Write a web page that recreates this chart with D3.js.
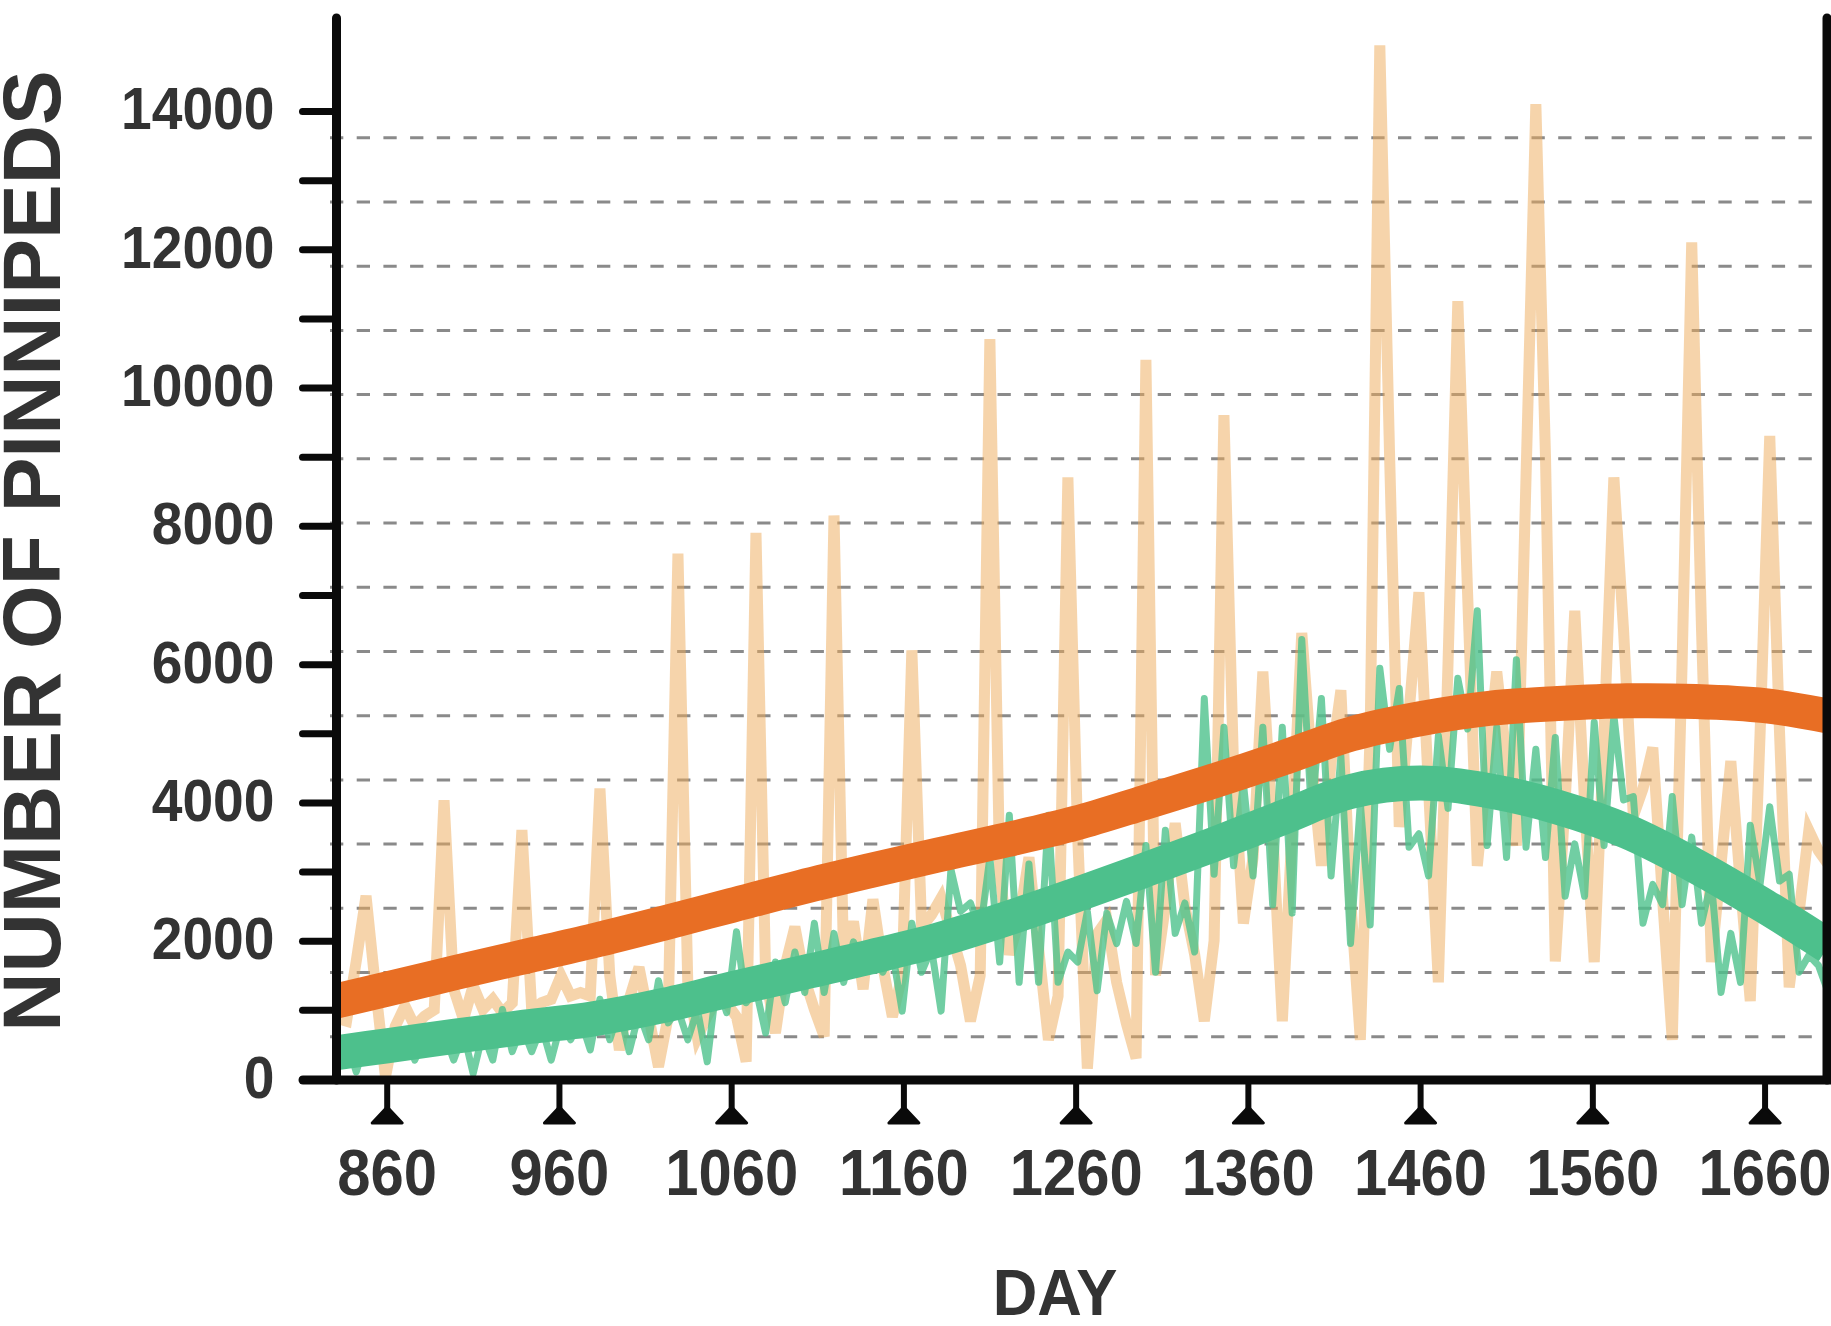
<!DOCTYPE html>
<meta charset="utf-8">

<!-- Load d3.js -->
<script src="https://d3js.org/d3.v7.min.js"></script>

<style>
  body { margin: 0; background: #fff; }
  text { font-family: "Liberation Sans", Arial, sans-serif; font-weight: bold; fill: #333; }
</style>

<!-- Create a div where the graph will take place -->
<div id="my_dataviz"></div>
<script>

// ---- data ----
// sampling days of the two raw series
var days = [
  831.0, 836.7, 842.3, 848.0, 853.6, 859.3, 865.0, 870.6, 876.3, 881.9,
  887.6, 893.3, 898.9, 904.6, 910.2, 915.9, 921.6, 927.2, 932.9, 938.5,
  944.2, 949.9, 955.5, 961.2, 966.8, 972.5, 978.2, 983.8, 989.5, 995.1,
  1000.8, 1006.5, 1012.1, 1017.8, 1023.4, 1029.1, 1034.8, 1040.4, 1046.1, 1051.7,
  1057.4, 1063.1, 1068.7, 1074.4, 1080.0, 1085.7, 1091.4, 1097.0, 1102.7, 1108.3,
  1114.0, 1119.7, 1125.3, 1131.0, 1136.6, 1142.3, 1148.0, 1153.6, 1159.3, 1164.9,
  1170.6, 1176.3, 1181.9, 1187.6, 1193.2, 1198.9, 1204.6, 1210.2, 1215.9, 1221.5,
  1227.2, 1232.9, 1238.5, 1244.2, 1249.8, 1255.5, 1261.2, 1266.8, 1272.5, 1278.1,
  1283.8, 1289.5, 1295.1, 1300.8, 1306.4, 1312.1, 1317.8, 1323.4, 1329.1, 1334.7,
  1340.4, 1346.1, 1351.7, 1357.4, 1363.0, 1368.7, 1374.4, 1380.0, 1385.7, 1391.3,
  1397.0, 1402.7, 1408.3, 1414.0, 1419.6, 1425.3, 1431.0, 1436.6, 1442.3, 1447.9,
  1453.6, 1459.3, 1464.9, 1470.6, 1476.2, 1481.9, 1487.6, 1493.2, 1498.9, 1504.5,
  1510.2, 1515.9, 1521.5, 1527.2, 1532.8, 1538.5, 1544.2, 1549.8, 1555.5, 1561.1,
  1566.8, 1572.5, 1578.1, 1583.8, 1589.4, 1595.1, 1600.8, 1606.4, 1612.1, 1617.7,
  1623.4, 1629.1, 1634.7, 1640.4, 1646.0, 1651.7, 1657.4, 1663.0, 1668.7, 1674.3,
  1680.0, 1685.7, 1691.3, 1697.0
];

// light orange raw counts
var rawOrange = [
  880, 836, 1700, 2650, 1300, 30, 762, 1055, 762, 909,
  1000, 4030, 1300, 860, 1349, 1006, 1153, 958, 1100, 3600,
  1000, 1104, 1153, 1495, 1202, 1251, 1200, 4200, 1500, 420,
  1153, 1617, 909, 176, 900, 7600, 1400, 600, 909, 1153,
  1100, 900, 250, 7900, 1500, 665, 1642, 2200, 1446, 1006,
  616, 8150, 1700, 2277, 1300, 2600, 1642, 900, 1500, 6200,
  2200, 2375, 2619, 2130, 1642, 836, 1500, 10700, 3000, 1800,
  2300, 3205, 1886, 567, 1200, 8700, 3500, 150, 2100, 2300,
  1400, 800, 300, 10400, 1500, 2500, 3700, 2500, 1800, 836,
  2000, 9600, 4500, 2250, 3200, 5893, 3596, 836, 3596, 6450,
  4574, 3083, 4574, 5624, 2619, 567, 5000, 14950, 9000, 3645,
  5300, 7041, 4200, 1398, 6000, 11250, 7000, 3083, 4500, 5893,
  4600, 3376, 8700, 14100, 9000, 1700, 4000, 6772, 4000, 1691,
  5000, 8700, 6500, 3800, 4200, 4793, 2600, 567, 6000, 12100,
  6500, 1691, 3100, 4598, 2800, 1129, 5000, 9300, 5000, 1325,
  2400, 3596, 3300, 3100
];

// light green raw counts
var rawGreen = [
  372, 567, 103, 567, 323, 567, 372, 713, 274, 567,
  469, 665, 274, 665, 78, 665, 274, 1006, 396, 762,
  396, 762, 274, 811, 567, 860, 420, 1153, 567, 1006,
  396, 958, 567, 1422, 811, 1006, 567, 1006, 249, 1397,
  958, 2130, 1104, 1300, 665, 1691, 1104, 1837, 1251, 2253,
  1251, 2106, 1398, 1984, 1642, 1886, 1544, 1837, 982, 2253,
  1544, 1886, 982, 3034, 2424, 2546, 2130, 3205, 1691, 3816,
  1398, 3108, 1398, 3816, 1398, 1837, 1691, 2424, 1275, 2399,
  1959, 2570, 1959, 3376, 1544, 3596, 2106, 2546, 1837, 5502,
  2961, 5086, 3083, 4280, 2937, 5086, 2521, 5086, 2399, 6357,
  3792, 5502, 2937, 4671, 1959, 3987, 2228, 5942, 4769, 5648,
  3352, 3547, 2937, 4964, 3914, 5795, 5062, 6772, 3376, 5086,
  3205, 6064, 3352, 4769, 3205, 4940, 2643, 3401, 2643, 5160,
  3376, 5257, 4036, 4085, 2253, 2814, 2521, 4085, 2521, 3498,
  2253, 2863, 1251, 2106, 1398, 3670, 2814, 3938, 2863, 2961,
  1544, 1788, 1642, 1251
];

// smoothed trends
var trendDays   = [831, 860, 900, 940, 980, 1020, 1060, 1100, 1140, 1180, 1220, 1260,
                   1300, 1340, 1380, 1420, 1460, 1500, 1540, 1580, 1620, 1660, 1697];
var trendOrange = [1130, 1300, 1540, 1770, 2000, 2250, 2510, 2770, 3010, 3240, 3460, 3700,
                   4000, 4310, 4640, 4990, 5210, 5360, 5430, 5470, 5460, 5400, 5250];
var trendGreen  = [380, 480, 620, 750, 870, 1060, 1300, 1530, 1760, 2010, 2320, 2660,
                   3020, 3390, 3780, 4160, 4280, 4170, 3930, 3580, 3080, 2500, 1920];

var xTicks = [860, 960, 1060, 1160, 1260, 1360, 1460, 1560, 1660];
var yTicks = [0, 1000, 2000, 3000, 4000, 5000, 6000, 7000, 8000, 9000, 10000, 11000, 12000, 13000, 14000];
var gridValues = [611, 1540, 2469, 3397, 4326, 5255, 6183, 7112, 8041, 8970, 9898, 10827, 11756, 12684, 13613];

// ---- svg ----
var width = 1831, height = 1326;

var svg = d3.select("#my_dataviz")
  .append("svg")
    .attr("width", width)
    .attr("height", height);

// scales
var x = d3.scaleLinear().domain([831, 1697]).range([336.75, 1828.3]);
var y = d3.scaleLinear().domain([0, 15345]).range([1079, 18]);

var plotLeft = 336.5, plotRight = 1827, plotTop = 18, plotBottom = 1080;

svg.append("clipPath").attr("id", "plotclip")
  .append("rect")
    .attr("x", plotLeft).attr("y", 0)
    .attr("width", plotRight - plotLeft).attr("height", plotBottom);

// dashed grid
svg.append("g")
  .selectAll("line")
  .data(gridValues)
  .enter()
  .append("line")
    .attr("x1", 330).attr("x2", plotRight)
    .attr("y1", function(d) { return y(d); })
    .attr("y2", function(d) { return y(d); })
    .attr("stroke", "#8a8a8a")
    .attr("stroke-width", 3)
    .attr("stroke-dasharray", "13.3,13.4");

var plot = svg.append("g").attr("clip-path", "url(#plotclip)");

var rawLine = d3.line()
  .x(function(d, i) { return x(days[i]); })
  .y(function(d) { return y(d); });

// light orange raw series
plot.append("path")
  .datum(rawOrange)
  .attr("d", rawLine)
  .attr("fill", "none")
  .attr("stroke", "#EDA957")
  .attr("stroke-opacity", 0.5)
  .attr("stroke-width", 11);

// light green raw series
plot.append("path")
  .datum(rawGreen)
  .attr("d", rawLine)
  .attr("fill", "none")
  .attr("stroke", "#4DC28C")
  .attr("stroke-opacity", 0.8)
  .attr("stroke-width", 7)
  .attr("stroke-linejoin", "round")
  .attr("stroke-linecap", "round");

var trendLine = d3.line()
  .curve(d3.curveCatmullRom)
  .x(function(d, i) { return x(trendDays[i]); })
  .y(function(d) { return y(d); });

plot.append("path")
  .datum(trendOrange)
  .attr("d", trendLine)
  .attr("fill", "none")
  .attr("stroke", "#E86E24")
  .attr("stroke-width", 35);

plot.append("path")
  .datum(trendGreen)
  .attr("d", trendLine)
  .attr("fill", "none")
  .attr("stroke", "#4DC08C")
  .attr("stroke-width", 35);

// Y axis ticks + labels (slightly condensed digits)
var yAxis = svg.append("g")
  .attr("transform", "translate(" + plotLeft + ",0)")
  .call(d3.axisLeft(y)
    .tickValues(yTicks)
    .tickSize(34)
    .tickPadding(28)
    .tickFormat(function(d) { return d % 2000 === 0 ? d : ""; }));
yAxis.select(".domain").remove();
yAxis.selectAll(".tick line")
  .attr("stroke", "#0a0a0a")
  .attr("stroke-width", 7)
  .attr("stroke-linecap", "round");
yAxis.selectAll(".tick text")
  .attr("font-size", 60)
  .attr("x", -62 / 0.92)
  .attr("dy", "0.3em")
  .attr("transform", "scale(0.92,1)")
  .attr("fill", "#333");

// X axis ticks + labels
var xAxis = svg.append("g")
  .attr("transform", "translate(0," + plotBottom + ")")
  .call(d3.axisBottom(x)
    .tickValues(xTicks)
    .tickSize(0)
    .tickFormat(d3.format("d")));
xAxis.select(".domain").remove();
xAxis.selectAll(".tick text")
  .attr("y", 115)
  .attr("dy", 0)
  .attr("font-size", 65)
  .attr("transform", "scale(0.92,1)")
  .attr("fill", "#333");
xAxis.selectAll(".tick").append("line")
  .attr("y1", 4).attr("y2", 30)
  .attr("stroke", "#0a0a0a")
  .attr("stroke-width", 6);
xAxis.selectAll(".tick").append("path")
  .attr("d", "M0,27L15,43L-15,43Z")
  .attr("fill", "#0a0a0a")
  .attr("stroke", "#0a0a0a")
  .attr("stroke-width", 3)
  .attr("stroke-linejoin", "round");

// frame lines
svg.append("line")
  .attr("x1", plotLeft).attr("x2", plotLeft)
  .attr("y1", plotTop).attr("y2", plotBottom)
  .attr("stroke", "#0a0a0a").attr("stroke-width", 9)
  .attr("stroke-linecap", "round");
svg.append("line")
  .attr("x1", plotRight).attr("x2", plotRight)
  .attr("y1", plotTop).attr("y2", plotBottom)
  .attr("stroke", "#0a0a0a").attr("stroke-width", 9)
  .attr("stroke-linecap", "round");
svg.append("line")
  .attr("x1", 303).attr("x2", 1831)
  .attr("y1", plotBottom).attr("y2", plotBottom)
  .attr("stroke", "#0a0a0a").attr("stroke-width", 9)
  .attr("stroke-linecap", "round");

// axis titles
svg.append("text")
  .attr("transform", "translate(1055,1315)scale(0.95,1)")
  .attr("text-anchor", "middle")
  .attr("font-size", 65)
  .text("DAY");

svg.append("text")
  .attr("transform", "translate(60,551)rotate(-90)")
  .attr("text-anchor", "middle")
  .attr("font-size", 82)
  .text("NUMBER OF PINNIPEDS");

</script>
